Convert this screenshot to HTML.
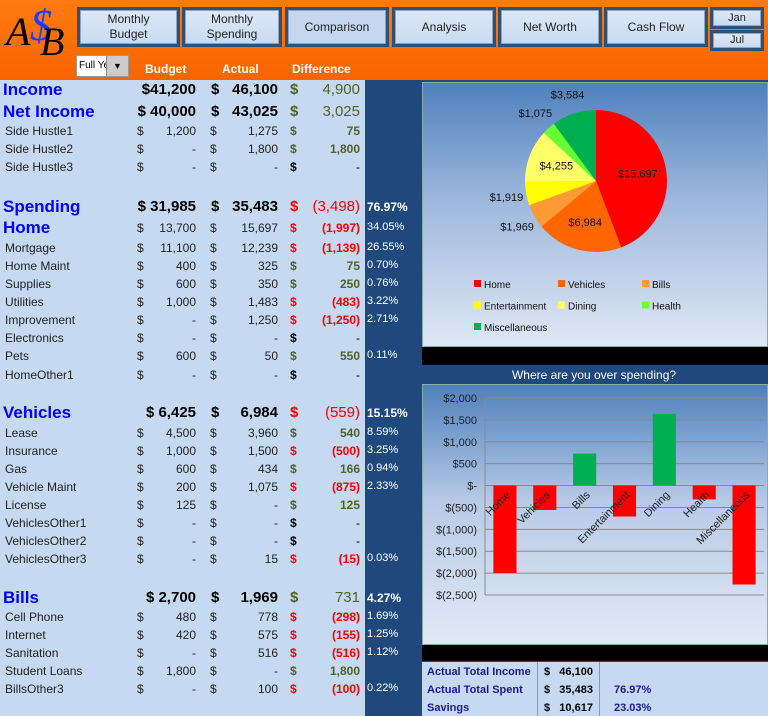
<!DOCTYPE html>
<html><head><meta charset="utf-8">
<style>
*{margin:0;padding:0;box-sizing:border-box}
body{width:768px;height:716px;overflow:hidden;position:relative;background:#c5d9f1;font-family:"Liberation Sans",sans-serif}
.abs{position:absolute}
#hdr{left:0;top:0;width:768px;height:80px;background:linear-gradient(#ff7a10,#f96400)}
.btn{position:absolute;background:linear-gradient(#dce8f7,#c9dbf1);border:3px solid #33506f;box-shadow:inset 0 0 0 1px #8aa4c4;font-size:12px;color:#222;text-align:center;display:flex;align-items:center;justify-content:center;line-height:15px}
.hl{position:absolute;top:62px;color:#fff;font-weight:bold;font-size:12px}
.row{position:absolute;left:0;width:365px;height:18px;font-size:12px;color:#222}
.row span{position:absolute;top:2px;white-space:nowrap}
.pct{position:absolute;left:367px;font-size:11px;color:#fff;white-space:nowrap}
</style></head><body>
<div id="hdr" class="abs"></div>
<div class="abs" style="left:4px;top:4px;width:70px;height:54px;font-family:'Liberation Serif',serif;font-style:italic;font-size:40px;color:#000">
<span style="position:absolute;left:2px;top:4px">A</span><span style="position:absolute;left:26px;top:-4px;color:#1a3cff;font-size:44px">$</span><span style="position:absolute;left:36px;top:14px">B</span></div>
<div class="btn" style="left:77px;top:7px;width:103px;height:40px">Monthly<br>Budget</div>
<div class="btn" style="left:182px;top:7px;width:100px;height:40px">Monthly<br>Spending</div>
<div class="btn" style="left:285px;top:7px;width:104px;height:40px;background:#c5d7ee">Comparison</div>
<div class="btn" style="left:392px;top:7px;width:104px;height:40px">Analysis</div>
<div class="btn" style="left:498px;top:7px;width:104px;height:40px">Net Worth</div>
<div class="btn" style="left:604px;top:7px;width:104px;height:40px">Cash Flow</div>
<div class="btn" style="left:710px;top:7px;width:54px;height:22px;font-size:11px">Jan</div>
<div class="btn" style="left:710px;top:30px;width:54px;height:21px;font-size:11px">Jul</div>
<div class="abs" style="left:76px;top:55px;width:53px;height:22px;background:#fff;border:1px solid #999;font-size:10px;padding:4px 2px;overflow:hidden">Full Ye<span style="position:absolute;right:0;top:0;width:22px;height:20px;background:#ccc;border-left:1px solid #888;text-align:center;font-size:9px;line-height:20px">▼</span></div>
<div class="hl" style="left:145px">Budget</div>
<div class="hl" style="left:222px">Actual</div>
<div class="hl" style="left:292px">Difference</div>

<div class="abs" style="left:365px;top:80px;width:403px;height:636px;background:#1f497d"></div>

<!-- pie panel -->
<div class="abs" style="left:422px;top:82px;width:346px;height:265px;background:linear-gradient(#4f81bd,#9fb8dd 45%,#dfe7f4);border:1px solid #8aa">
<svg id="pie" width="346" height="265" style="position:absolute;left:0;top:0"></svg></div>
<div class="abs" style="left:422px;top:347px;width:346px;height:18px;background:#000"></div>
<div class="abs" style="left:420px;top:366px;width:348px;height:18px;color:#fff;font-size:12px;text-align:center;line-height:18px">Where are you over spending?</div>
<div class="abs" style="left:422px;top:384px;width:346px;height:261px;background:linear-gradient(#4f81bd,#b7cae6 45%,#e2e9f5);border:1px solid #8aa">
<svg id="bar" width="346" height="261" style="position:absolute;left:0;top:0"></svg></div>
<div class="abs" style="left:422px;top:645px;width:346px;height:16px;background:#000"></div>
<div class="abs" style="left:422px;top:662px;width:346px;height:54px;background:#c5d9f1;font-size:11px;font-weight:bold;color:#1b1b8f">
<div style="position:absolute;left:115px;top:0;width:1px;height:54px;background:#8899bb"></div>
<div style="position:absolute;left:177px;top:0;width:1px;height:54px;background:#8899bb"></div>
<div style="position:absolute;left:5px;top:4px">Actual Total Income</div>
<div style="position:absolute;left:5px;top:22px">Actual Total Spent</div>
<div style="position:absolute;left:5px;top:40px">Savings</div>
<div style="position:absolute;left:122px;top:4px;color:#000">$ &nbsp;&nbsp;46,100</div>
<div style="position:absolute;left:122px;top:22px;color:#000">$ &nbsp;&nbsp;35,483</div>
<div style="position:absolute;left:122px;top:40px;color:#000">$ &nbsp;&nbsp;10,617</div>
<div style="position:absolute;left:192px;top:22px">76.97%</div>
<div style="position:absolute;left:192px;top:40px">23.03%</div>
</div>

<script>
// table rows: label, centerY, type, budget, actual, diffColor, diff, pct
const rows=[
["Income",90,"big","$41,200","46,100","g","4,900",""],
["Net Income",112,"big","$ 40,000","43,025","g","3,025",""],
["Side Hustle1",131,"n","1,200","1,275","g","75",""],
["Side Hustle2",149,"n","-","1,800","g","1,800",""],
["Side Hustle3",167,"n","-","-","k","-",""],
["Spending",207,"big","$ 31,985","35,483","r","(3,498)","76.97%"],
["Home",228,"sub","13,700","15,697","r","(1,997)","34.05%"],
["Mortgage",248,"n","11,100","12,239","r","(1,139)","26.55%"],
["Home Maint",266,"n","400","325","g","75","0.70%"],
["Supplies",284,"n","600","350","g","250","0.76%"],
["Utilities",302,"n","1,000","1,483","r","(483)","3.22%"],
["Improvement",320,"n","-","1,250","r","(1,250)","2.71%"],
["Electronics",338,"n","-","-","k","-",""],
["Pets",356,"n","600","50","g","550","0.11%"],
["HomeOther1",375,"n","-","-","k","-",""],
["Vehicles",413,"big","$ 6,425","6,984","r","(559)","15.15%"],
["Lease",433,"n","4,500","3,960","g","540","8.59%"],
["Insurance",451,"n","1,000","1,500","r","(500)","3.25%"],
["Gas",469,"n","600","434","g","166","0.94%"],
["Vehicle Maint",487,"n","200","1,075","r","(875)","2.33%"],
["License",505,"n","125","-","g","125",""],
["VehiclesOther1",523,"n","-","-","k","-",""],
["VehiclesOther2",541,"n","-","-","k","-",""],
["VehiclesOther3",559,"n","-","15","r","(15)","0.03%"],
["Bills",598,"big","$ 2,700","1,969","g","731","4.27%"],
["Cell Phone",617,"n","480","778","r","(298)","1.69%"],
["Internet",635,"n","420","575","r","(155)","1.25%"],
["Sanitation",653,"n","-","516","r","(516)","1.12%"],
["Student Loans",671,"n","1,800","-","g","1,800",""],
["BillsOther3",689,"n","-","100","r","(100)","0.22%"]
];
const col={g:"#4f6228",r:"#ff0000",k:"#000"};
rows.forEach(r=>{
  const d=document.createElement('div');
  d.className='row';
  
  
  d.style.top=(r[1]-9)+'px';
  const big=r[2]==='big', sub=r[2]==='sub';
  const lf=big||sub?'font-size:17px;font-weight:bold;color:#0000ff;top:-1px':'';
  const vf=big?'font-size:15px;font-weight:bold;color:#000;top:0':'';
  const dv=big?'font-size:15px;top:0;':'font-weight:bold;';
  let h=`<span style="left:${big||sub?3:5}px;${lf}">${r[0]}</span>`;
  if(big){
    h+=`<span style="right:${365-196}px;${vf}">${r[3]}</span>`;
  }else{
    h+=`<span style="left:137px">$</span><span style="right:${365-196}px">${r[3]}</span>`;
  }
  h+=`<span style="left:${big?211:210}px;${vf}">$</span><span style="right:${365-278}px;${vf}">${r[4]}</span>`;
  h+=`<span style="left:290px;color:${col[r[5]]};font-weight:bold;${big?'font-size:15px;top:0':''}">$</span>`;
  h+=`<span style="right:5px;color:${col[r[5]]};${r[5]==='k'?'':dv}">${r[6]}</span>`;
  d.innerHTML=h;
  document.body.appendChild(d);
  if(r[7]){
    const p=document.createElement('div');
    p.className='pct';
    
    
    p.style.top=(r[1]-7)+'px';
    if(big){p.style.fontWeight='bold';p.style.fontSize='12px';}
    p.textContent=r[7];
    document.body.appendChild(p);
  }
});

// pie chart data
const pieCats=["Home","Vehicles","Bills","Entertainment","Dining","Health","Miscellaneous"];
const pieVals=[15697,6984,1969,1919,4255,1075,3584];
const pieLabels=["$15,697","$6,984","$1,969","$1,919","$4,255","$1,075","$3,584"];
const pieColors=["#ff0000","#ff6600","#ff9933","#ffff00","#ffff66","#66ff33","#00b050"];
const NS="http://www.w3.org/2000/svg";
const pie=document.getElementById('pie');
const cx=173,cy=98,R=71;
const tot=pieVals.reduce((a,b)=>a+b,0);
let a0=0;
const inside=[true,true,false,false,true,false,false];
pieVals.forEach((v,i)=>{
  const a1=a0+v/tot*2*Math.PI;
  const p=(a)=>[cx+R*Math.sin(a),cy-R*Math.cos(a)];
  const [x0,y0]=p(a0),[x1,y1]=p(a1);
  const path=document.createElementNS(NS,'path');
  path.setAttribute('d',`M${cx},${cy}L${x0},${y0}A${R},${R} 0 ${a1-a0>Math.PI?1:0} 1 ${x1},${y1}Z`);
  path.setAttribute('fill',pieColors[i]);
  
  
  pie.appendChild(path);
  const am=(a0+a1)/2;
  const rr=inside[i]?R*0.6:R+20;
  const t=document.createElementNS(NS,'text');
  t.setAttribute('x',cx+rr*Math.sin(am));
  t.setAttribute('y',cy-rr*Math.cos(am)+4);
  t.setAttribute('text-anchor','middle');
  t.setAttribute('font-size','11');
  t.setAttribute('fill','#111');
  t.textContent=pieLabels[i];
  
  
  pie.appendChild(t);
  a0=a1;
});
pieCats.forEach((c,i)=>{
  const x=51+(i%3)*84, y=201+Math.floor(i/3)*21.5;
  const g=document.createElementNS(NS,'g');
  
  
  g.innerHTML=`<rect x="${x}" y="${y-4}" width="7" height="7" fill="${pieColors[i]}"/><text x="${x+10}" y="${y+4}" font-size="10" fill="#111">${c}</text>`;
  pie.appendChild(g);
});

// bar chart data
const barCats=["Home","Vehicles","Bills","Entertainment","Dining","Health","Miscellaneous"];
const barVals=[-1997,-559,731,-708,1640,-315,-2260];
const yTicks=[2000,1500,1000,500,0,-500,-1000,-1500,-2000,-2500];
const yTickLabels=["$2,000","$1,500","$1,000","$500","$-","$(500)","$(1,000)","$(1,500)","$(2,000)","$(2,500)"];
const bar=document.getElementById('bar');
const pl=62,pr=341,ptop=13,pbot=210,ymax=2000,ymin=-2500;
const Y=v=>ptop+(ymax-v)/(ymax-ymin)*(pbot-ptop);
const bw=(pr-pl)/barCats.length;
const X=i=>pl+bw*(i+0.5);
yTicks.forEach((t,i)=>{
  const l=document.createElementNS(NS,'line');
  l.setAttribute('x1',pl);l.setAttribute('x2',pr);l.setAttribute('y1',Y(t));l.setAttribute('y2',Y(t));
  l.setAttribute('stroke','#8a8a8a');l.setAttribute('stroke-width','1');
  
  
  bar.appendChild(l);
  const tx=document.createElementNS(NS,'text');
  tx.setAttribute('x',pl-8);tx.setAttribute('y',Y(t)+4);tx.setAttribute('text-anchor','end');
  tx.setAttribute('font-size','11');tx.setAttribute('fill','#222');
  tx.textContent=yTickLabels[i];
  
  
  bar.appendChild(tx);
});
const ax=document.createElementNS(NS,'line');
ax.setAttribute('x1',pl);ax.setAttribute('x2',pl);ax.setAttribute('y1',ptop);ax.setAttribute('y2',pbot);ax.setAttribute('stroke','#8a8a8a');


bar.appendChild(ax);
barVals.forEach((v,i)=>{
  const r=document.createElementNS(NS,'rect');
  const y0=Y(Math.max(v,0)),y1=Y(Math.min(v,0));
  r.setAttribute('x',X(i)-bw*0.29);r.setAttribute('width',bw*0.58);
  r.setAttribute('y',y0);r.setAttribute('height',y1-y0);
  r.setAttribute('fill',v<0?'#ff0000':'#00b050');
  
  
  bar.appendChild(r);
  const t=document.createElementNS(NS,'text');
  const lx=X(i)+6,ly=Y(0)+10;
  t.setAttribute('x',lx);t.setAttribute('y',ly);t.setAttribute('text-anchor','end');
  t.setAttribute('font-size','11');t.setAttribute('fill','#222');
  t.setAttribute('transform',`rotate(-45 ${lx} ${ly})`);
  t.textContent=barCats[i];
  
  
  bar.appendChild(t);
});
</script>
</body></html>
